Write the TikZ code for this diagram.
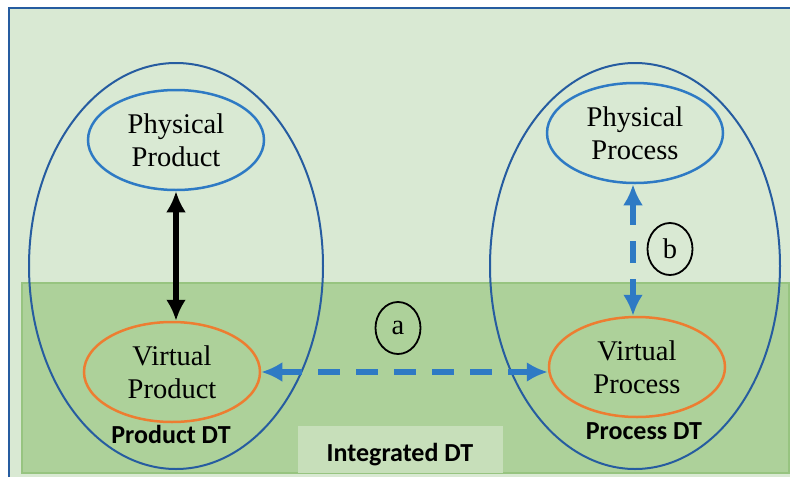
\documentclass[tikz,border=0pt]{standalone}
\usepackage{fontspec}
\setmainfont{Liberation Serif}
\newfontfamily\dtfont{Carlito}
\usepackage{tikz}
\usetikzlibrary{shapes.geometric,arrows.meta,calc,backgrounds}
\definecolor{mint1} {RGB} {217, 233, 211}
\definecolor{green3} {RGB} {173, 209, 154}
\definecolor{green5} {RGB} {151, 196, 128}
\definecolor{mint2} {RGB} {199, 223, 186}
\definecolor{navy6} {RGB} {38, 92, 160}
\definecolor{sky4} {RGB} {46, 122, 196}
\definecolor{orange2} {RGB} {237, 125, 49}
\tikzstyle{dtpic}=[
  x=1pt, y=-1pt, font=\fontsize{28.5}{33}\selectfont
]
\tikzstyle{dtouter}=[
  ellipse, draw=navy6, line width=2pt, inner sep=0pt
]
\tikzstyle{dtphys}=[
  ellipse, draw=sky4, line width=2.5pt, inner sep=0pt, align=center,
  minimum width=176pt, minimum height=100pt
]
\tikzstyle{dtvirt}=[
  dtphys, draw=orange2
]
\tikzstyle{dtlabel}=[
  font=\dtfont\bfseries\fontsize{26}{30}\selectfont
]
\tikzstyle{dttag}=[
  ellipse, draw, line width=1.8pt, inner sep=0pt,
  minimum width=45pt, minimum height=52pt
]
\tikzstyle{dtlink}=[
  line width=6pt, {Latex[length=21pt,width=20pt]}-{Latex[length=21pt,width=20pt]}
]
\tikzstyle{dtdash}=[
  dtlink, draw=sky4, dash pattern=on 22pt off 16pt
]

\begin{document}
\begin{tikzpicture}[dtpic]
\useasboundingbox (0,0) rectangle (790,477);
% backgrounds
\fill[mint1] (9,8) rectangle (790,477);
\draw[navy6, line width=2pt] (9,477) -- (9,8) -- (790,8);
\draw[green5, fill=green3, line width=1.5pt] (22,283) rectangle (789,473);
\fill[mint2] (298,426) rectangle (503,473);

% product side
\node (prod) [dtouter, minimum width=294pt, minimum height=406pt] at (176,266) {};
\node (pp) [dtphys] at (176,140) {Physical\\Product};
\node (vp) [dtvirt] at ($(pp) + (-4,232)$) {Virtual\\Product};
\node (proddt) [dtlabel] at ($(vp) + (-1,62)$) {Product DT};

% process side
\node (proc) [dtouter, minimum width=290pt, minimum height=406pt] at (635,266) {};
\node (pc) [dtphys] at (635,133) {Physical\\Process};
\node (vc) [dtvirt] at ($(pc) + (2,234)$) {Virtual\\Process};
\node (procdt) [dtlabel] at ($(vc) + (7,64)$) {Process DT};

\node (integ) [dtlabel] at (400,455) {Integrated DT};

\node (taga) [dttag] at (398,328) {a};
\node (tagb) [dttag] at (670,249) {b};

\draw [dtlink] (pp.south) -- (pp.south |- vp.north);
\draw [dtdash] (pc.south) ++ (-2,0) -- ($(pc.south |- vc.north) + (-2,0)$);
\draw [dtdash] (vp.east) -- (vp.east -| vc.west);
\end{tikzpicture}
\end{document}
